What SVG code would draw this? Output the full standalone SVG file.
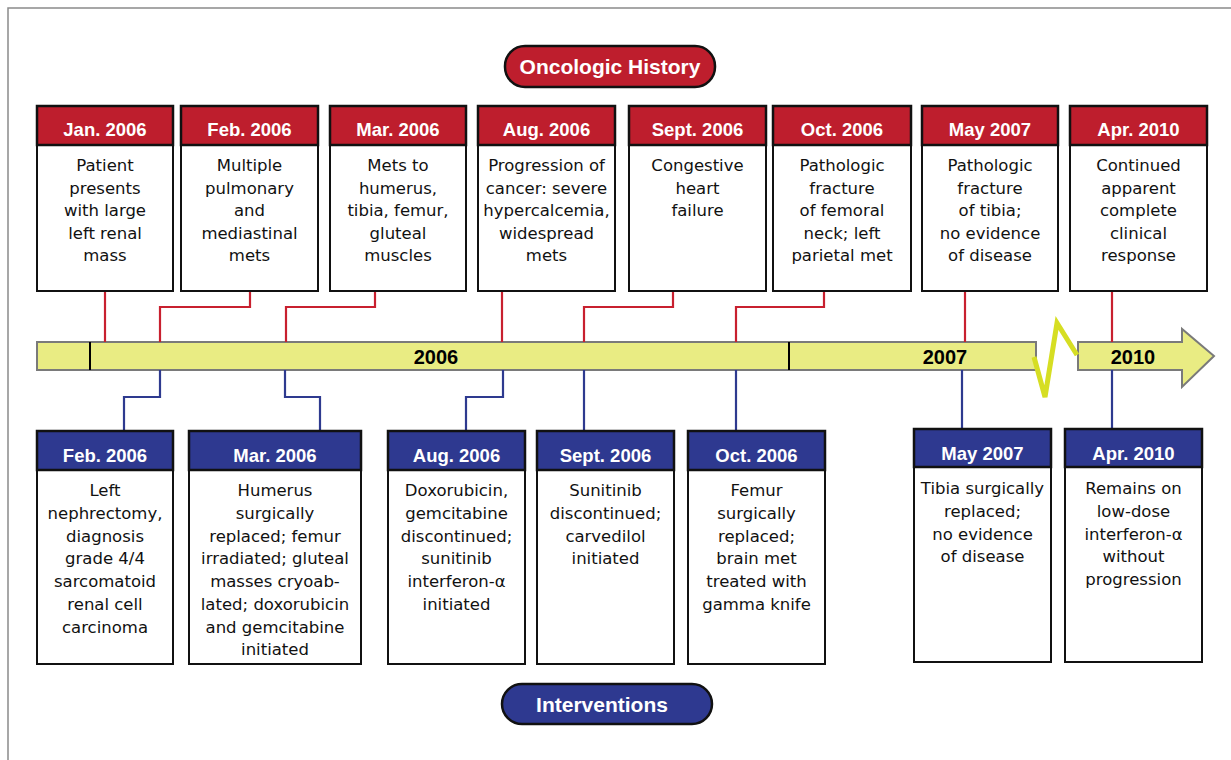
<svg xmlns="http://www.w3.org/2000/svg" width="1231" height="760" viewBox="0 0 1231 760">
<style>
.hdr-r{fill:#BE1E2D;stroke:#111;stroke-width:2.5}
.hdr-b{fill:#2E3990;stroke:#111;stroke-width:2.5}
.body{fill:#fff;stroke:#111;stroke-width:2}
.ht{font-family:"Liberation Sans",Arial,sans-serif;font-weight:bold;font-size:18.5px;fill:#fff;text-anchor:middle}
.bt{font-family:"DejaVu Sans",sans-serif;font-size:16.5px;fill:#111;text-anchor:middle}
.yr{font-family:"Liberation Sans",Arial,sans-serif;font-weight:bold;font-size:20px;fill:#000;text-anchor:middle}
.pt{font-family:"Liberation Sans",Arial,sans-serif;font-weight:bold;font-size:21px;fill:#fff;text-anchor:middle}
.cr{fill:none;stroke:#C8202F;stroke-width:2.2}
.cb{fill:none;stroke:#2E3A8F;stroke-width:2.2}
</style>
<rect x="8" y="8" width="1400" height="900" fill="#fff" stroke="#8a8a8a" stroke-width="1.5"/>

<g id="title-oncologic">
<rect x="505" y="46" width="210" height="41" rx="20" class="hdr-r"/>
<text x="610" y="74" class="pt">Oncologic History</text>
</g>
<g id="title-interventions">
<rect x="502" y="684" width="210" height="40" rx="20" class="hdr-b"/>
<text x="602" y="712" class="pt">Interventions</text>
</g>

<g id="timeline">
<rect x="37" y="342" width="999" height="28" fill="#E9EC83" stroke="#7a7a7a" stroke-width="2"/>
<path d="M1078,342 H1182 V329 L1214,356 L1182,387 V370 H1078 Z" fill="#E9EC83" stroke="#7a7a7a" stroke-width="2"/>
<path d="M1034,357 L1045,397 L1057,323 L1077,355" fill="none" stroke="#D6DE23" stroke-width="5"/>
<line x1="90" y1="342" x2="90" y2="370" stroke="#000" stroke-width="2"/>
<line x1="789" y1="342" x2="789" y2="370" stroke="#000" stroke-width="2"/>
<text x="436" y="364" class="yr">2006</text>
<text x="945" y="364" class="yr">2007</text>
<text x="1133" y="364" class="yr">2010</text>
</g>

<g id="connectors">
<path class="cr" d="M105,291 V342"/>
<path class="cr" d="M250,291 V307 H160 V342"/>
<path class="cr" d="M375,291 V307 H286 V342"/>
<path class="cr" d="M502,291 V342"/>
<path class="cr" d="M673,291 V307 H584 V342"/>
<path class="cr" d="M824,291 V307 H736 V342"/>
<path class="cr" d="M965,291 V342"/>
<path class="cr" d="M1112,291 V342"/>
<path class="cb" d="M160,370 V397 H124 V431"/>
<path class="cb" d="M285,370 V397 H320 V431"/>
<path class="cb" d="M503,370 V397 H466 V431"/>
<path class="cb" d="M584,370 V431"/>
<path class="cb" d="M736,370 V431"/>
<path class="cb" d="M962,370 V429"/>
<path class="cb" d="M1112,370 V429"/>
</g>

<g id="top-jan2006">
<rect x="37" y="145" width="136" height="146" class="body"/>
<rect x="37" y="106" width="136" height="39" class="hdr-r"/>
<text x="105" y="136" class="ht">Jan. 2006</text>
<text class="bt" y="171"><tspan x="105">Patient</tspan><tspan x="105" dy="22.6">presents</tspan><tspan x="105" dy="22.6">with large</tspan><tspan x="105" dy="22.6">left renal</tspan><tspan x="105" dy="22.6">mass</tspan></text>
</g>
<g id="top-feb2006">
<rect x="181" y="145" width="137" height="146" class="body"/>
<rect x="181" y="106" width="137" height="39" class="hdr-r"/>
<text x="249.5" y="136" class="ht">Feb. 2006</text>
<text class="bt" y="171"><tspan x="249.5">Multiple</tspan><tspan x="249.5" dy="22.6">pulmonary</tspan><tspan x="249.5" dy="22.6">and</tspan><tspan x="249.5" dy="22.6">mediastinal</tspan><tspan x="249.5" dy="22.6">mets</tspan></text>
</g>
<g id="top-mar2006">
<rect x="330" y="145" width="136" height="146" class="body"/>
<rect x="330" y="106" width="136" height="39" class="hdr-r"/>
<text x="398" y="136" class="ht">Mar. 2006</text>
<text class="bt" y="171"><tspan x="398">Mets to</tspan><tspan x="398" dy="22.6">humerus,</tspan><tspan x="398" dy="22.6">tibia, femur,</tspan><tspan x="398" dy="22.6">gluteal</tspan><tspan x="398" dy="22.6">muscles</tspan></text>
</g>
<g id="top-aug2006">
<rect x="478" y="145" width="137" height="146" class="body"/>
<rect x="478" y="106" width="137" height="39" class="hdr-r"/>
<text x="546.5" y="136" class="ht">Aug. 2006</text>
<text class="bt" y="171"><tspan x="546.5">Progression of</tspan><tspan x="546.5" dy="22.6">cancer: severe</tspan><tspan x="546.5" dy="22.6">hypercalcemia,</tspan><tspan x="546.5" dy="22.6">widespread</tspan><tspan x="546.5" dy="22.6">mets</tspan></text>
</g>
<g id="top-sept2006">
<rect x="629" y="145" width="137" height="146" class="body"/>
<rect x="629" y="106" width="137" height="39" class="hdr-r"/>
<text x="697.5" y="136" class="ht">Sept. 2006</text>
<text class="bt" y="171"><tspan x="697.5">Congestive</tspan><tspan x="697.5" dy="22.6">heart</tspan><tspan x="697.5" dy="22.6">failure</tspan></text>
</g>
<g id="top-oct2006">
<rect x="773" y="145" width="138" height="146" class="body"/>
<rect x="773" y="106" width="138" height="39" class="hdr-r"/>
<text x="842" y="136" class="ht">Oct. 2006</text>
<text class="bt" y="171"><tspan x="842">Pathologic</tspan><tspan x="842" dy="22.6">fracture</tspan><tspan x="842" dy="22.6">of femoral</tspan><tspan x="842" dy="22.6">neck; left</tspan><tspan x="842" dy="22.6">parietal met</tspan></text>
</g>
<g id="top-may2007">
<rect x="922" y="145" width="136" height="146" class="body"/>
<rect x="922" y="106" width="136" height="39" class="hdr-r"/>
<text x="990" y="136" class="ht">May 2007</text>
<text class="bt" y="171"><tspan x="990">Pathologic</tspan><tspan x="990" dy="22.6">fracture</tspan><tspan x="990" dy="22.6">of tibia;</tspan><tspan x="990" dy="22.6">no evidence</tspan><tspan x="990" dy="22.6">of disease</tspan></text>
</g>
<g id="top-apr2010">
<rect x="1070" y="145" width="137" height="146" class="body"/>
<rect x="1070" y="106" width="137" height="39" class="hdr-r"/>
<text x="1138.5" y="136" class="ht">Apr. 2010</text>
<text class="bt" y="171"><tspan x="1138.5">Continued</tspan><tspan x="1138.5" dy="22.6">apparent</tspan><tspan x="1138.5" dy="22.6">complete</tspan><tspan x="1138.5" dy="22.6">clinical</tspan><tspan x="1138.5" dy="22.6">response</tspan></text>
</g>

<g id="bot-feb2006">
<rect x="37" y="470" width="136" height="194" class="body"/>
<rect x="37" y="431" width="136" height="39" class="hdr-b"/>
<text x="105" y="462" class="ht">Feb. 2006</text>
<text class="bt" y="496"><tspan x="105">Left</tspan><tspan x="105" dy="22.75">nephrectomy,</tspan><tspan x="105" dy="22.75">diagnosis</tspan><tspan x="105" dy="22.75">grade 4/4</tspan><tspan x="105" dy="22.75">sarcomatoid</tspan><tspan x="105" dy="22.75">renal cell</tspan><tspan x="105" dy="22.75">carcinoma</tspan></text>
</g>
<g id="bot-mar2006">
<rect x="189" y="470" width="172" height="194" class="body"/>
<rect x="189" y="431" width="172" height="39" class="hdr-b"/>
<text x="275" y="462" class="ht">Mar. 2006</text>
<text class="bt" y="496"><tspan x="275">Humerus</tspan><tspan x="275" dy="22.75">surgically</tspan><tspan x="275" dy="22.75">replaced; femur</tspan><tspan x="275" dy="22.75">irradiated; gluteal</tspan><tspan x="275" dy="22.75">masses cryoab-</tspan><tspan x="275" dy="22.75">lated; doxorubicin</tspan><tspan x="275" dy="22.75">and gemcitabine</tspan><tspan x="275" dy="22.75">initiated</tspan></text>
</g>
<g id="bot-aug2006">
<rect x="388" y="470" width="137" height="194" class="body"/>
<rect x="388" y="431" width="137" height="39" class="hdr-b"/>
<text x="456.5" y="462" class="ht">Aug. 2006</text>
<text class="bt" y="496"><tspan x="456.5">Doxorubicin,</tspan><tspan x="456.5" dy="22.75">gemcitabine</tspan><tspan x="456.5" dy="22.75">discontinued;</tspan><tspan x="456.5" dy="22.75">sunitinib</tspan><tspan x="456.5" dy="22.75">interferon-α</tspan><tspan x="456.5" dy="22.75">initiated</tspan></text>
</g>
<g id="bot-sept2006">
<rect x="537" y="470" width="137" height="194" class="body"/>
<rect x="537" y="431" width="137" height="39" class="hdr-b"/>
<text x="605.5" y="462" class="ht">Sept. 2006</text>
<text class="bt" y="496"><tspan x="605.5">Sunitinib</tspan><tspan x="605.5" dy="22.75">discontinued;</tspan><tspan x="605.5" dy="22.75">carvedilol</tspan><tspan x="605.5" dy="22.75">initiated</tspan></text>
</g>
<g id="bot-oct2006">
<rect x="688" y="470" width="137" height="194" class="body"/>
<rect x="688" y="431" width="137" height="39" class="hdr-b"/>
<text x="756.5" y="462" class="ht">Oct. 2006</text>
<text class="bt" y="496"><tspan x="756.5">Femur</tspan><tspan x="756.5" dy="22.75">surgically</tspan><tspan x="756.5" dy="22.75">replaced;</tspan><tspan x="756.5" dy="22.75">brain met</tspan><tspan x="756.5" dy="22.75">treated with</tspan><tspan x="756.5" dy="22.75">gamma knife</tspan></text>
</g>
<g id="bot-may2007">
<rect x="914" y="467" width="137" height="195" class="body"/>
<rect x="914" y="429" width="137" height="38" class="hdr-b"/>
<text x="982.5" y="460" class="ht">May 2007</text>
<text class="bt" y="494"><tspan x="982.5">Tibia surgically</tspan><tspan x="982.5" dy="22.75">replaced;</tspan><tspan x="982.5" dy="22.75">no evidence</tspan><tspan x="982.5" dy="22.75">of disease</tspan></text>
</g>
<g id="bot-apr2010">
<rect x="1065" y="467" width="137" height="195" class="body"/>
<rect x="1065" y="429" width="137" height="38" class="hdr-b"/>
<text x="1133.5" y="460" class="ht">Apr. 2010</text>
<text class="bt" y="494"><tspan x="1133.5">Remains on</tspan><tspan x="1133.5" dy="22.75">low-dose</tspan><tspan x="1133.5" dy="22.75">interferon-α</tspan><tspan x="1133.5" dy="22.75">without</tspan><tspan x="1133.5" dy="22.75">progression</tspan></text>
</g>
</svg>
